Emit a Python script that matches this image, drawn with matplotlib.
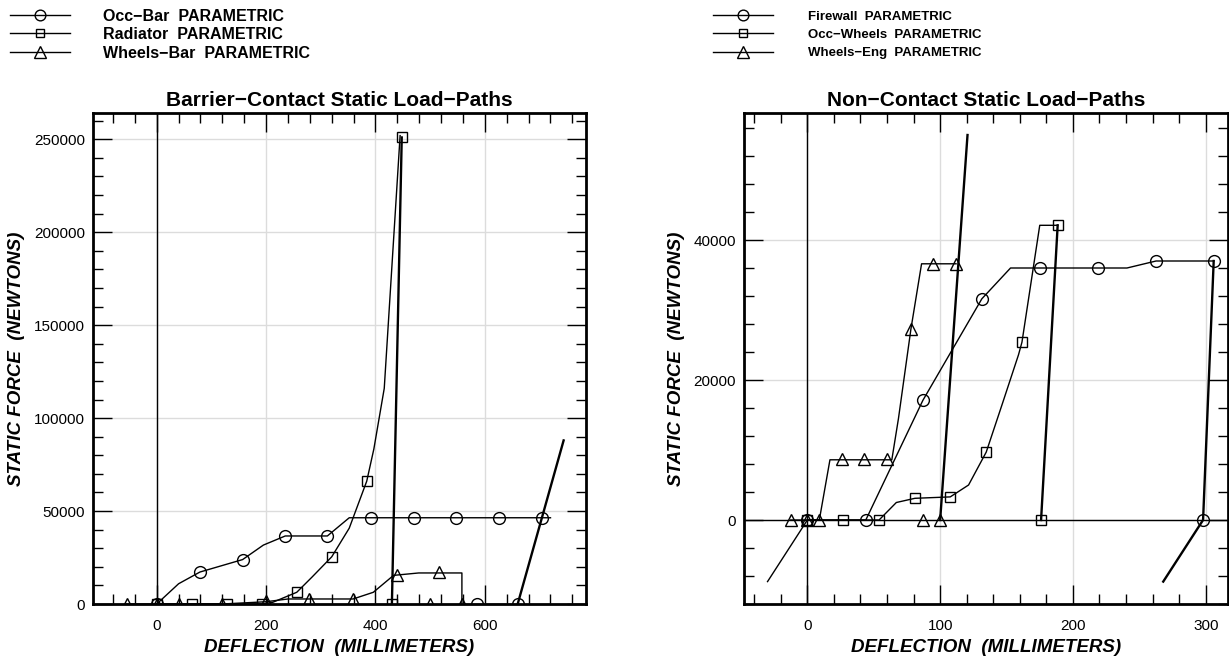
import matplotlib
matplotlib.use("Agg")
import matplotlib.pyplot as plt
from matplotlib.lines import Line2D
from matplotlib.ticker import MultipleLocator

plt.rcParams['font.family'] = ['Liberation Sans', 'DejaVu Sans']

# ---------------- Left chart: Barrier-Contact ----------------
left_title = "Barrier\u2212Contact Static Load\u2212Paths"
left_labels = ["Occ\u2212Bar  PARAMETRIC", "Radiator  PARAMETRIC", "Wheels\u2212Bar  PARAMETRIC"]

# Occ-Bar (circles)
occbar_x = [0, 40, 79, 157, 195, 235, 312, 352, 392, 470, 548, 626, 704, 720]
occbar_y = [0, 10900, 17200, 23900, 31700, 36600, 36600, 46400, 46400, 46400, 46400, 46400, 46400, 46400]
occbar_mx = [0, 79, 157, 235, 312, 392, 470, 548, 626, 704, 585, 660]
occbar_my = [0, 17200, 23900, 36600, 36600, 46400, 46400, 46400, 46400, 46400, 0, 0]
occbar_ux = [660, 744]
occbar_uy = [0, 88000]

# Radiator (squares)
rad_x = [0, 64, 128, 192, 212, 256, 284, 320, 352, 384, 397, 416, 445]
rad_y = [0, 0, 0, 0, 900, 6300, 14500, 25400, 40800, 66100, 83400, 116000, 252000]
rad_mx = [0, 64, 128, 192, 256, 320, 384, 448, 430]
rad_my = [0, 0, 0, 0, 6300, 25400, 66100, 251000, 0]
rad_ux = [448, 430]
rad_uy = [251000, 0]

# Wheels-Bar (triangles)
wbar_x = [-55, 0, 40, 120, 199, 240, 290, 359, 396, 433, 479, 558, 558]
wbar_y = [0, 0, 0, 0, 1200, 2700, 2700, 2700, 6300, 15400, 16700, 16700, 0]
wbar_mx = [-55, 0, 40, 120, 199, 279, 359, 439, 517, 500, 558]
wbar_my = [0, 0, 0, 0, 1800, 2700, 2700, 15400, 17200, 0, 0]

# ---------------- Right chart: Non-Contact ----------------
right_title = "Non\u2212Contact Static Load\u2212Paths"
right_labels = ["Firewall  PARAMETRIC", "Occ\u2212Wheels  PARAMETRIC", "Wheels\u2212Eng  PARAMETRIC"]

# Firewall (circles)
fw_x = [-30, 0, 44, 87, 107.5, 131.4, 153, 175.4, 219, 240.7, 262.6, 306]
fw_y = [-8800, 0, 0, 17100, 23800, 31600, 36000, 36000, 36000, 36000, 37000, 37000]
fw_mx = [0, 44, 87, 131.4, 175.4, 219, 262.6, 306, 298]
fw_my = [0, 0, 17100, 31600, 36000, 36000, 37000, 37000, 0]
fw_ux = [306, 298, 268]
fw_uy = [37000, 0, -8800]

# Occ-Wheels (squares)
ow_x = [0, 27, 54, 67, 81, 107.6, 121.4, 134.7, 147, 159, 161.6, 175, 188.5]
ow_y = [0, 0, 0, 2500, 3100, 3300, 5000, 9700, 16700, 23600, 25400, 42100, 42100]
ow_mx = [0, 27, 54, 81, 107.6, 134.7, 161.6, 188.5, 176]
ow_my = [0, 0, 0, 3100, 3300, 9700, 25400, 42100, 0]
ow_ux = [188.5, 176]
ow_uy = [42100, 0]

# Wheels-Eng (triangles)
we_x = [-12.6, 0, 9, 17, 43, 63.6, 68.6, 78, 86, 94.5, 112]
we_y = [0, 0, 0, 8600, 8600, 8600, 14500, 27300, 36600, 36600, 36600]
we_mx = [-12.6, 0, 9, 25.9, 43, 60, 78, 94.5, 112, 87, 100]
we_my = [0, 0, 0, 8700, 8700, 8700, 27300, 36600, 36600, 0, 0]
we_ux = [120.6, 100]
we_uy = [55000, 0]

fig = plt.figure(figsize=(12.29, 6.56), dpi=100)
W, H = 1229.0, 656.0

def px_axes(x0, x1, ytop, ybot):
    return fig.add_axes([x0 / W, 1 - ybot / H, (x1 - x0) / W, (ybot - ytop) / H])

axL = px_axes(93.3, 585.5, 113.3, 604)
axR = px_axes(744.3, 1228.3, 113.3, 604)

MS = {'o': 8.5, 's': 6.8, '^': 8.8}
mk = dict(fillstyle='none', color='black', markeredgewidth=1.0, linestyle='none')
thin = dict(color='black', linewidth=1.0)
thick = dict(color='black', linewidth=1.7)

def style_axes(ax, xlim, ylim, xmaj, xmin, ymaj, ymin, title):
    ax.set_xlim(*xlim)
    ax.set_ylim(*ylim)
    ax.xaxis.set_major_locator(MultipleLocator(xmaj))
    ax.xaxis.set_minor_locator(MultipleLocator(xmin))
    ax.yaxis.set_major_locator(MultipleLocator(ymaj))
    ax.yaxis.set_minor_locator(MultipleLocator(ymin))
    ax.tick_params(which='both', direction='in', top=True, right=True, width=1.0, color='black')
    ax.tick_params(which='major', length=14, labelsize=11)
    ax.tick_params(axis='x', which='major', pad=11)
    ax.tick_params(axis='y', which='major', pad=6)
    ax.tick_params(which='minor', length=7)
    for s in ax.spines.values():
        s.set_linewidth(2.0)
    ax.grid(True, which='major', color='#dcdcdc', linewidth=1.0, zorder=0)
    ax.set_axisbelow(True)
    ax.set_title(title, fontsize=15, fontweight='bold', pad=5)
    ax.set_xlabel("DEFLECTION  (MILLIMETERS)", fontsize=13.5, fontweight='bold', style='italic', labelpad=4)
    ax.set_ylabel("STATIC FORCE  (NEWTONS)", fontsize=13.5, fontweight='bold', style='italic')

# Left chart
style_axes(axL, (-116, 784), (0, 264000), 200, 40, 50000, 10000, left_title)
axL.axvline(0, color='black', linewidth=1.0, zorder=1)
axL.plot(occbar_x, occbar_y, **thin)
axL.plot(occbar_mx, occbar_my, marker='o', markersize=MS['o'], **mk)
axL.plot([560, 660], [0, 0], **thin)
axL.plot(occbar_ux, occbar_uy, **thick)
axL.plot(rad_x, rad_y, **thin)
axL.plot(rad_mx, rad_my, marker='s', markersize=MS['s'], **mk)
axL.plot(rad_ux, rad_uy, **thick)
axL.plot(wbar_x, wbar_y, **thin)
axL.plot(wbar_mx, wbar_my, marker='^', markersize=MS['^'], **mk)

# Right chart
style_axes(axR, (-47.5, 317), (-12000, 58100), 100, 20, 20000, 4000, right_title)
axR.axvline(0, color='black', linewidth=1.0, zorder=1)
axR.axhline(0, color='black', linewidth=1.0, zorder=1)
axR.plot(fw_x, fw_y, **thin)
axR.plot(fw_mx, fw_my, marker='o', markersize=MS['o'], **mk)
axR.plot(fw_ux, fw_uy, **thick)
axR.plot(ow_x, ow_y, **thin)
axR.plot(ow_mx, ow_my, marker='s', markersize=MS['s'], **mk)
axR.plot(ow_ux, ow_uy, **thick)
axR.plot(we_x, we_y, **thin)
axR.plot(we_mx, we_my, marker='^', markersize=MS['^'], **mk)
axR.plot(we_ux, we_uy, **thick)

axL.yaxis.set_label_coords((25 - 93.3) / 492.2, 0.5)
axR.yaxis.set_label_coords((685 - 744.3) / 484.0, 0.5)

# Legends (manual, figure pixel coordinates)
def draw_legend(x_line0, x_line1, x_text, labels, markers, fs):
    rows = [15, 33, 51.5]
    for y, lab, m in zip(rows, labels, markers):
        yy = 1 - y / H
        fig.add_artist(Line2D([x_line0 / W, x_line1 / W], [yy, yy], color='black', linewidth=1.0,
                              transform=fig.transFigure))
        fig.add_artist(Line2D([(x_line0 + x_line1) / 2 / W], [yy], marker=m, markersize=MS[m] - 0.8,
                              fillstyle='none', color='black', markeredgewidth=1.0, linestyle='none',
                              transform=fig.transFigure))
        fig.text(x_text / W, 1 - (y + 1.5) / H, lab, fontsize=fs, fontweight='bold',
                 va='center', ha='left')

draw_legend(10, 70, 103, left_labels, ['o', 's', '^'], 11.5)
draw_legend(713, 773, 808, right_labels, ['o', 's', '^'], 9.5)

fig.savefig("out.png", dpi=100)
